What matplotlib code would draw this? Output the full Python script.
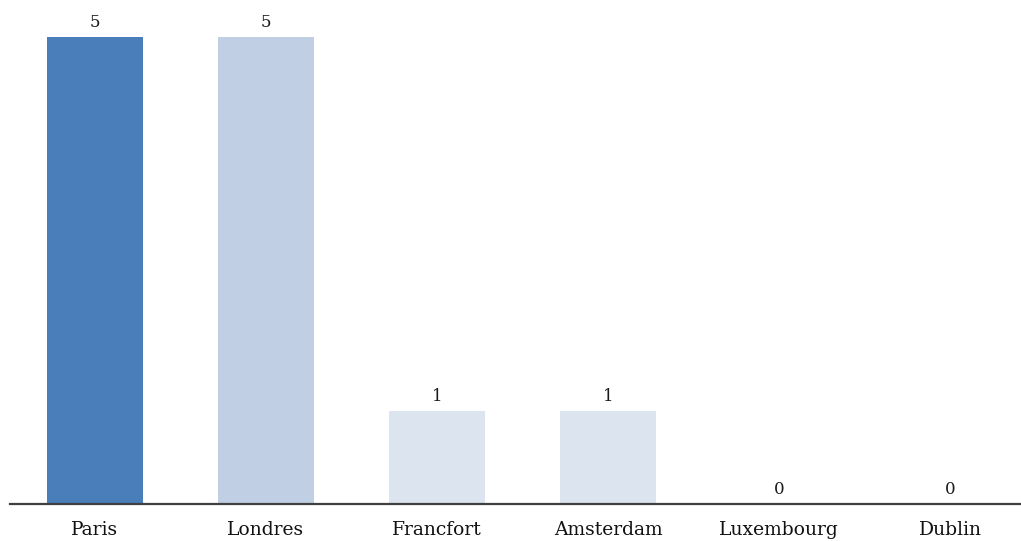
import matplotlib.pyplot as plt

cities = ["Paris", "Londres", "Francfort", "Amsterdam", "Luxembourg", "Dublin"]
counts = [5, 5, 1, 1, 0, 0]
colors = ["#4A7EBB", "#C0CFE3", "#DCE4F0", "#DCE4F0", "#DCE4F0", "#DCE4F0"]

plt.rcParams["font.family"] = ["DejaVu Serif"]

fig = plt.figure(figsize=(10.21, 5.41), dpi=100)
ax = fig.add_axes([10 / 1021, 37 / 541, 1011 / 1021, 467 / 541])

x = list(range(len(cities)))
bars = ax.bar(x, counts, width=0.556, color=colors)

# value labels above each bar
for xi, v in zip(x, counts):
    ax.text(xi, v + 0.06, str(v), ha="center", va="bottom", fontsize=12, color="#1a1a1a")

ax.set_xlim(-0.497, 5.415)
ax.set_ylim(0, 5)
ax.set_xticks(x)
ax.set_xticklabels(cities, fontsize=13.5, color="#111111")
ax.tick_params(axis="x", length=0, pad=12)
ax.set_yticks([])

for side in ["top", "right", "left"]:
    ax.spines[side].set_visible(False)
ax.spines["bottom"].set_color("#404040")
ax.spines["bottom"].set_linewidth(1.6)

fig.savefig("out.png", dpi=100)
